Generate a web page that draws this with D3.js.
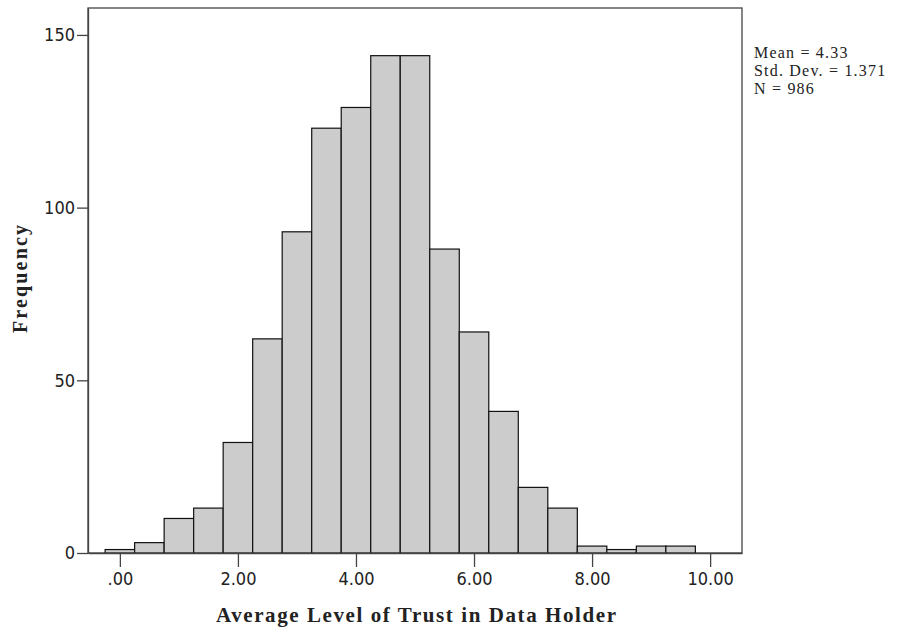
<!DOCTYPE html>
<html>
<head>
<meta charset="utf-8">
<script src="https://cdn.jsdelivr.net/npm/d3@7"></script>
<style>
  body { margin: 0; background: #fff; }
  .tick text { font-family: "Liberation Sans Narrow", "DejaVu Sans Condensed", sans-serif; font-size: 18px; fill: #222; }
</style>
</head>
<body>
<div id="chart"></div>
<script>
// bin centres (width 0.5) and counts
var binCenters = [0, 0.5, 1, 1.5, 2, 2.5, 3, 3.5, 4, 4.5, 5, 5.5, 6, 6.5, 7, 7.5, 8, 8.5, 9, 9.5];
var counts = [1, 3, 10, 13, 32, 62, 93, 123, 129, 144, 144, 88, 64, 41, 19, 13, 2, 1, 2, 2];
var xTicks = [0, 2, 4, 6, 8, 10];
var yTicks = [0, 50, 100, 150];
var stats = ["Mean = 4.33", "Std. Dev. = 1.371", "N = 986"];
var binWidth = 0.5;

var width = 898, height = 633;
var margin = { top: 8, right: 156, bottom: 80, left: 88 };
var w = width - margin.left - margin.right,
  h = height - margin.top - margin.bottom;

var svg = d3.select("#chart").append("svg")
  .attr("width", width)
  .attr("height", height);

var g = svg.append("g").attr("transform", "translate(" + margin.left + "," + margin.top + ")");

var xScale = d3.scaleLinear().domain([-0.54, 10.54]).range([0, w]);
var yScale = d3.scaleLinear().domain([0, 157.8]).range([h, 0]);

// frame
g.append("rect").attr("x", 0).attr("y", 0).attr("width", w).attr("height", h)
  .attr("fill", "none").attr("stroke", "#444").attr("stroke-width", 1.3);

// bars
g.selectAll(".bar").data(counts).enter()
  .append("rect").attr("class", "bar")
  .attr("x", function (d, i) { return xScale(binCenters[i] - binWidth / 2); })
  .attr("width", function (d, i) { return xScale(binCenters[i] + binWidth / 2) - xScale(binCenters[i] - binWidth / 2); })
  .attr("y", function (d) { return yScale(d); })
  .attr("height", function (d) { return h - yScale(d); })
  .attr("fill", "#cccccc").attr("stroke", "#111").attr("stroke-width", 1.2);

var xAxis = d3.axisBottom(xScale).tickValues(xTicks).tickSize(14).tickPadding(5).tickSizeOuter(0)
  .tickFormat(function (d) { return d === 0 ? ".00" : d3.format(".2f")(d); });
var yAxis = d3.axisLeft(yScale).tickValues(yTicks).tickSize(11).tickPadding(2).tickSizeOuter(0);

var gx = g.append("g").attr("transform", "translate(0," + h + ")").call(xAxis);
var gy = g.append("g").call(yAxis);
[gx, gy].forEach(function (a) {
  a.select(".domain").attr("stroke", "#444").attr("stroke-width", 1.3);
  a.selectAll(".tick line").attr("stroke", "#444").attr("stroke-width", 1.3);
});

// stats box
svg.append("g").selectAll("text").data(stats).enter()
  .append("text")
  .attr("x", 754)
  .attr("y", function (d, i) { return 58 + i * 18; })
  .attr("font-family", "Liberation Serif, Times New Roman, serif")
  .attr("font-size", 16).attr("letter-spacing", "1.2px").attr("fill", "#222")
  .text(function (d) { return d; });

// axis titles
svg.append("text")
  .attr("x", 416)
  .attr("y", 622)
  .attr("text-anchor", "middle")
  .attr("textLength", 400).attr("lengthAdjust", "spacing")
  .attr("font-family", "Liberation Serif, Times New Roman, serif")
  .attr("font-weight", "bold").attr("font-size", 21).attr("fill", "#222")
  .text("Average Level of Trust in Data Holder");

svg.append("text")
  .attr("transform", "translate(27,279) rotate(-90)")
  .attr("text-anchor", "middle")
  .attr("textLength", 108).attr("lengthAdjust", "spacing")
  .attr("font-family", "Liberation Serif, Times New Roman, serif")
  .attr("font-weight", "bold").attr("font-size", 20).attr("fill", "#222")
  .text("Frequency");
</script>
</body>
</html>
